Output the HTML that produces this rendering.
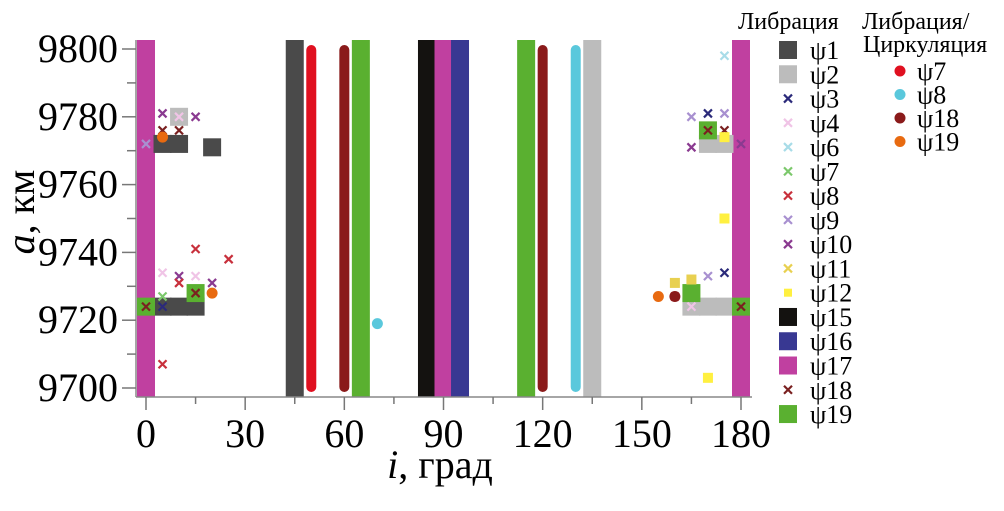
<!DOCTYPE html>
<html><head><meta charset="utf-8"><style>
body{margin:0;background:#fff}
svg{display:block}
svg text{font-family:"Liberation Serif","DejaVu Serif",serif}
</style></head><body>
<svg id="chart" width="1004" height="511" viewBox="0 0 1004 511" font-family="Liberation Serif, DejaVu Serif, serif">
<g id="bars"></g>
<g id="pts"></g>
<g id="axes"></g>
<g id="legend"></g>
</svg>
<script>
const NS="http://www.w3.org/2000/svg";
const colors={p1:"#4a4a4a",p2:"#bcbcbc",p3:"#2b2a7a",p4:"#f0c4e6",p6:"#a8dce8",p7:"#7cc86c",p8:"#c8303c",p9:"#a890d0",p10:"#8a3a90",p11:"#e8d050",p12:"#fff040",p15:"#141210",p16:"#383892",p17:"#c040a0",p18:"#7a2020",p19:"#5ab030",
 c7:"#e01020",c8:"#5ac8dc",c18:"#8a1a1a",c19:"#e86a10"};
// full-range bars: series, inclination
const barSeries=["p17","p1","c7","c18","p19","p15","p17","p16","p19","c18","c8","p2","p17"];
const barIncl=[0,45,50,60,65,85,90,95,115,120,130,135,180];
const barLow=9700, barHigh=9800;
// square points
const sqSeries=["p1","p1","p1","p1","p1","p1","p2","p2","p2","p2","p2","p2","p19","p19","p19","p19","p19"];
const sqI=[5,10,5,10,15,20,10,170,175,165,170,175,0,15,170,165,180];
const sqA=[9772,9772,9724,9724,9724,9771,9780,9772,9772,9724,9724,9724,9724,9728,9776,9728,9724];
// cross points
const crSeries=["p10","p10","p4","p18","p18","p9","p8","p8","p4","p4","p10","p8","p10","p7","p3","p18","p8",
 "p6","p9","p3","p9","p18","p10","p10","p9","p3","p4","p8","p18","p18","p18"];
const crI=[5,15,10,5,10,0,15,25,5,15,10,10,20,5,5,15,5,
 175,165,170,175,175,165,180,170,175,165,160,170,0,180];
const crA=[9781,9780,9780,9776,9776,9772,9741,9738,9734,9733,9733,9731,9731,9727,9724,9728,9707,
 9798,9780,9781,9781,9776,9771,9772,9733,9734,9724,9727,9776,9724,9724];
// yellow points
const ylSeries=["p12","p12","p11","p11","p12"];
const ylI=[175,175,160,165,170];
const ylA=[9774,9750,9731,9732,9703];
// circle points
const ciSeries=["c19","c19","c19","c8","c18"];
const ciI=[5,20,155,70,160];
const ciA=[9774,9728,9727,9719,9727];
const xTicks=[0,30,60,90,120,150,180];
const yTicks=[9700,9720,9740,9760,9780,9800];

const X=i=>146+i*(595/180);
const Y=a=>49+(9800-a)*(339/100);
const FF="Liberation Serif, DejaVu Serif, serif";
function mk(t,at,p){const e=document.createElementNS(NS,t);for(const k in at)e.setAttribute(k,at[k]);if(t==='text')e.setAttribute('font-family',FF);p.appendChild(e);return e;}
const bars=document.getElementById('bars'),pts=document.getElementById('pts'),axes=document.getElementById('axes'),leg=document.getElementById('legend');

barSeries.forEach((s,k)=>{
 const x=X(barIncl[k]);
 let e;
 if(s[0]==="c"){
  e=mk('rect',{x:x-5,y:Y(barHigh)-4,width:10,height:Y(barLow)-Y(barHigh)+8,rx:5,fill:colors[s]},bars);
 } else {
  e=mk('rect',{x:x-9,y:40,width:18,height:357,fill:colors[s]},bars);
 }
 
 
});
sqSeries.forEach((s,k)=>{
 const e=mk('rect',{x:X(sqI[k])-9,y:Y(sqA[k])-9,width:18,height:18,fill:colors[s]},pts);
 
 
});
function cross(x,y,c,p){const g=mk('g',{},p);
 mk('path',{d:`M${x-4},${y-4}L${x+4},${y+4}M${x+4},${y-4}L${x-4},${y+4}`,stroke:c,'stroke-width':2.2},g);return g;}
crSeries.forEach((s,k)=>{
 const g=cross(X(crI[k]),Y(crA[k]),colors[s],pts);
 
 
});
ylSeries.forEach((s,k)=>{
 const e=mk('rect',{x:X(ylI[k])-5,y:Y(ylA[k])-5,width:10,height:10,fill:colors[s]},pts);
 
 
});
ciSeries.forEach((s,k)=>{
 const e=mk('circle',{cx:X(ciI[k]),cy:Y(ciA[k]),r:5.5,fill:colors[s]},pts);
 
 
});
// axes
mk('line',{x1:136,y1:40,x2:136,y2:397,stroke:'#888','stroke-width':1.5},axes);
mk('line',{x1:136,y1:397,x2:752,y2:397,stroke:'#888','stroke-width':1.5},axes);
for(let v=9700;v<=9800;v+=10){const y=Y(v);const maj=v%20===0;
 mk('line',{x1:maj?122:127,y1:y,x2:136,y2:y,stroke:'#777','stroke-width':1.5},axes);}
yTicks.forEach(v=>{const t=mk('text',{x:118,y:Y(v)+13,'text-anchor':'end','font-size':40},axes);t.textContent=v;
 
 });
for(let v=0;v<=180;v+=15){const x=X(v);const maj=v%30===0;
 mk('line',{x1:x,y1:397,x2:x,y2:maj?410:404,stroke:'#777','stroke-width':1.5},axes);}
xTicks.forEach(v=>{const t=mk('text',{x:X(v),y:447,'text-anchor':'middle','font-size':40},axes);t.textContent=v;
 
 });
const xt=mk('text',{x:440,y:478,'text-anchor':'middle','font-size':40},axes);
xt.innerHTML='<tspan font-style="italic">i</tspan>, град';


const yt=mk('text',{x:0,y:0,'text-anchor':'middle','font-size':40,transform:'translate(34,212) rotate(-90)'},axes);
yt.innerHTML='<tspan font-style="italic">a</tspan>, км';


// legend
const legSeries=["p1","p2","p3","p4","p6","p7","p8","p9","p10","p11","p12","p15","p16","p17","p18","p19"];
const legLabels=["ψ1","ψ2","ψ3","ψ4","ψ6","ψ7","ψ8","ψ9","ψ10","ψ11","ψ12","ψ15","ψ16","ψ17","ψ18","ψ19"];
const bigSq={p1:1,p2:1,p15:1,p16:1,p17:1,p19:1};
let lt=mk('text',{x:738,y:29,'font-size':24},leg);lt.textContent='Либрация';


legSeries.forEach((s,k)=>{const y=50+k*24.27;let g;
 if(bigSq[s]){g=mk('rect',{x:779,y:y-9,width:18,height:18,fill:colors[s]},leg);}
 else if(s==="p12"){g=mk('rect',{x:784,y:y-4,width:8,height:8,fill:colors[s]},leg);}
 else{g=cross(788,y,colors[s],leg);}
 
 
 const t=mk('text',{x:810,y:y+9,'font-size':26},leg);t.textContent=legLabels[k];
 
 });
lt=mk('text',{x:862,y:29,'font-size':24},leg);lt.textContent='Либрация/';


lt=mk('text',{x:863,y:52,'font-size':24},leg);lt.textContent='Циркуляция';


const leg2=["c7","c8","c18","c19"],leg2L=["ψ7","ψ8","ψ18","ψ19"];
leg2.forEach((s,k)=>{const y=71+k*23.5;
 const c=mk('circle',{cx:900,cy:y,r:5.5,fill:colors[s]},leg);
 
 
 const t=mk('text',{x:917,y:y+9,'font-size':26},leg);t.textContent=leg2L[k];
 
 });
</script>
</body></html>
